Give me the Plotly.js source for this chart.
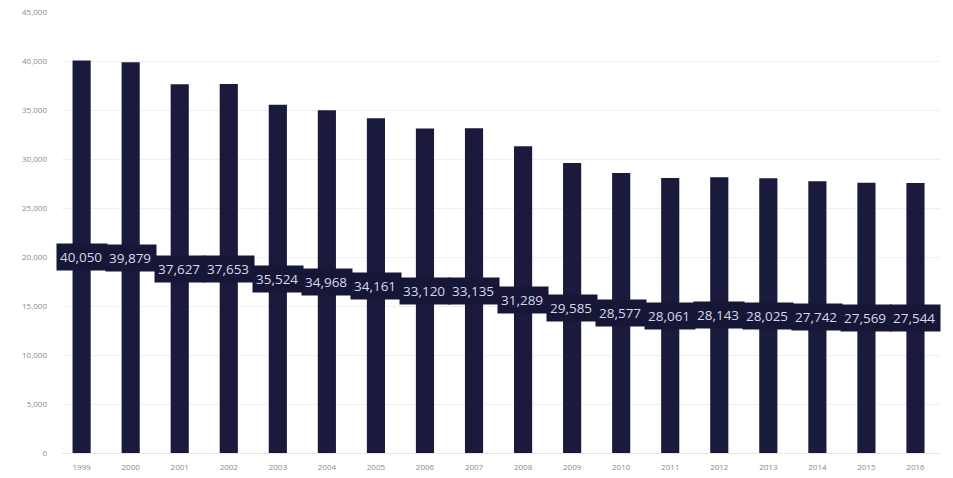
<!DOCTYPE html>
<html>
<head>
<meta charset="utf-8">
<script src="https://cdn.plot.ly/plotly-3.0.1.min.js"></script>
<style>html,body{margin:0;padding:0;background:#fff;}#chart{width:953px;height:478px;}</style>
</head>
<body>
<div id="chart"></div>
<script>
const years = [1999,2000,2001,2002,2003,2004,2005,2006,2007,2008,2009,2010,2011,2012,2013,2014,2015,2016];
const values = [40050,39879,37627,37653,35524,34968,34161,33120,33135,31289,29585,28577,28061,28143,28025,27742,27569,27544];
const yTicks = [0,5000,10000,15000,20000,25000,30000,35000,40000,45000];

const barColor = "#1a1a3c";
const fmt = v => v.toLocaleString("en-US");

const annotations = years.map((yr, i) => ({
  x: yr, y: values[i] / 2, xref: "x", yref: "y",
  text: fmt(values[i]), showarrow: false,
  bgcolor: "#161636", borderpad: 3, width: 44, height: 20,
  align: "left",
  font: {family: "Open Sans, Noto Sans, sans-serif", size: 13.5, color: "#d8d9e6"}
}));

const trace = {
  type: "bar", x: years, y: values,
  marker: {color: barColor, line: {width: 0}},
  width: 0.37,
  hoverinfo: "none"
};

const layout = {
  width: 953, height: 478,
  margin: {l: 62, r: 13, t: 12, b: 25},
  paper_bgcolor: "#fff", plot_bgcolor: "#fff",
  showlegend: false,
  font: {family: "Open Sans, Noto Sans, sans-serif"},
  xaxis: {
    type: "linear", range: [1998.6, 2016.5], tickvals: years,
    tickfont: {size: 8, color: "#8a8a8a"},
    showgrid: false, zeroline: false, showline: true, linecolor: "#e6e6e6", linewidth: 1,
    ticks: "", ticklabelstandoff: 6, automargin: false
  },
  yaxis: {
    range: [0, 45000], tickvals: yTicks, ticktext: yTicks.map(fmt),
    tickfont: {size: 8, color: "#8a8a8a"},
    gridcolor: "#f0f0f0", zeroline: false, showline: false,
    ticks: "", ticklabelstandoff: 14, automargin: false
  },
  annotations: annotations
};

Plotly.newPlot("chart", [trace], layout, {staticPlot: true, displayModeBar: false});
</script>
</body>
</html>
